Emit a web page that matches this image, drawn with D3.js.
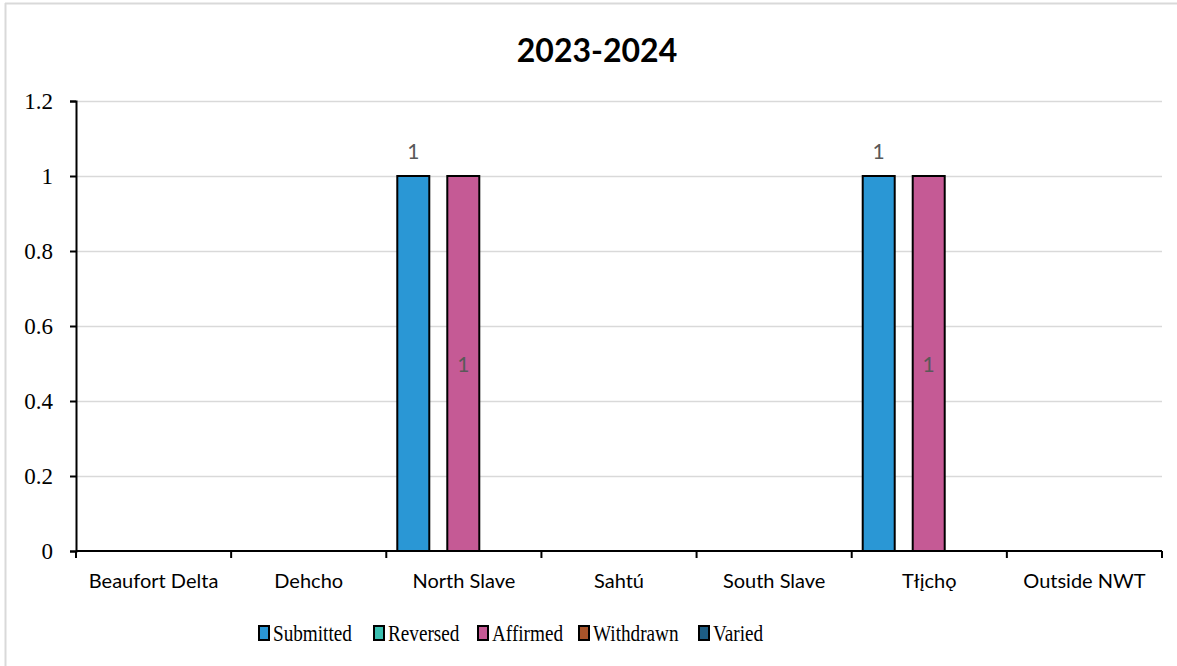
<!DOCTYPE html>
<html><head><meta charset="utf-8">
<script src="https://cdn.jsdelivr.net/npm/d3@7"></script>
<style>body{margin:0;background:#fff}svg{display:block}</style>
</head><body>
<script>
const categories = ["Beaufort Delta","Dehcho","North Slave","Sahtú","South Slave","Tłįchǫ","Outside NWT"];
const seriesNames = ["Submitted","Reversed","Affirmed","Withdrawn","Varied"];
const submitted = [0,0,1,0,0,1,0];
const reversed  = [0,0,0,0,0,0,0];
const affirmed  = [0,0,1,0,0,1,0];
const withdrawn = [0,0,0,0,0,0,0];
const varied    = [0,0,0,0,0,0,0];
const yTicks = [0,0.2,0.4,0.6,0.8,1,1.2];
const yTickLabels = ["0","0.2","0.4","0.6","0.8","1","1.2"];
const title = "2023-2024";
const colors = ["#2a97d5","#3bbfb0","#c55a95","#a9542a","#1d5d84"];

const seriesValues = [submitted,reversed,affirmed,withdrawn,varied];
const W=1177,H=666;
const svg=d3.select("body").append("svg").attr("width",W).attr("height",H);

// frame
svg.append("line").attr("x1",5).attr("x2",W).attr("y1",3.5).attr("y2",3.5).attr("stroke","#d9d9d9").attr("stroke-width",2);
svg.append("line").attr("x1",5.5).attr("x2",5.5).attr("y1",3).attr("y2",H).attr("stroke","#d9d9d9").attr("stroke-width",2);

const m={l:76,r:1162,t:101,b:551};
const x=d3.scaleBand().domain(categories).range([m.l,m.r]);
const y=d3.scaleLinear().domain([0,1.2]).range([m.b,m.t]);
const x1=d3.scaleBand().domain(seriesNames).range([14.5,139.5]);
const barW=32;
const sans="Lato, 'Open Sans', sans-serif";

svg.append("text").attr("x",597).attr("y",62).attr("text-anchor","middle")
  .attr("font-family",sans).attr("font-weight","bold").attr("font-size",32).text(title);

// grid
svg.append("g").selectAll("line").data(yTicks.filter(d=>d>0)).join("line")
  .attr("x1",m.l).attr("x2",m.r).attr("y1",d=>Math.round(y(d))+0.5).attr("y2",d=>Math.round(y(d))+0.5)
  .attr("stroke","#d9d9d9").attr("stroke-width",1.3);

// y axis
const ya=svg.append("g").attr("transform",`translate(${m.l},0)`)
  .call(d3.axisLeft(y).tickValues(yTicks).tickFormat((d,i)=>yTickLabels[i]).tickSize(6).tickPadding(17));
ya.attr("font-size",null).attr("font-family",null);
ya.select(".domain").attr("stroke","#000").attr("stroke-width",2);
ya.selectAll(".tick line").attr("stroke","#000").attr("stroke-width",2);
ya.selectAll("text").attr("font-family","'Liberation Serif', serif").attr("font-size",23).attr("fill","#000");

// x axis
const xa=svg.append("g").attr("transform",`translate(0,${m.b})`)
  .call(d3.axisBottom(x).tickSize(0).tickPadding(23));
xa.attr("font-size",null).attr("font-family",null);
xa.select(".domain").remove();
xa.selectAll("text").attr("font-family",sans).attr("font-size",20).attr("fill","#000");
const bounds=categories.map(c=>x(c)).concat([m.r]);
svg.append("g").selectAll("line").data(bounds).join("line")
  .attr("x1",d=>d).attr("x2",d=>d).attr("y1",m.b).attr("y2",m.b+7).attr("stroke","#000").attr("stroke-width",2);
svg.append("line").attr("x1",m.l).attr("x2",m.r).attr("y1",m.b).attr("y2",m.b).attr("stroke","#000").attr("stroke-width",2);

// bars
const bars=[];
seriesNames.forEach((s,si)=>categories.forEach((c,ci)=>{
  const v=seriesValues[si][ci]; if(v>0) bars.push({s,si,c,v});
}));
const bx=d=>x(d.c)+x1(d.s)+x1.bandwidth()/2-barW/2;
svg.append("g").selectAll("rect").data(bars).join("rect")
  .attr("x",bx).attr("y",d=>y(d.v)).attr("width",barW).attr("height",d=>y(0)-y(d.v))
  .attr("fill",d=>colors[d.si]).attr("stroke","#000").attr("stroke-width",2);

// labels
svg.append("g").selectAll("text").data(bars).join("text")
  .attr("x",d=>bx(d)+barW/2)
  .attr("y",d=>d.s==="Affirmed"? (y(d.v)+y(0))/2+8 : y(d.v)-17)
  .attr("text-anchor","middle").attr("font-family",sans).attr("font-size",21)
  .attr("fill","#595959").text(d=>d.v);

// legend
const legX=[259,374,478,579,699];
const lg=svg.append("g").selectAll("g").data(seriesNames).join("g")
  .attr("transform",(d,i)=>`translate(${legX[i]},626)`);
lg.append("rect").attr("x",0).attr("y",0).attr("width",10).attr("height",14)
  .attr("fill",(d,i)=>colors[i]).attr("stroke","#000").attr("stroke-width",2);
lg.append("text").attr("transform","translate(14,15) scale(0.8,1)").attr("font-family","'Liberation Serif', serif").attr("font-size",24)
  .attr("fill","#000").text(d=>d);
</script>
</body></html>
